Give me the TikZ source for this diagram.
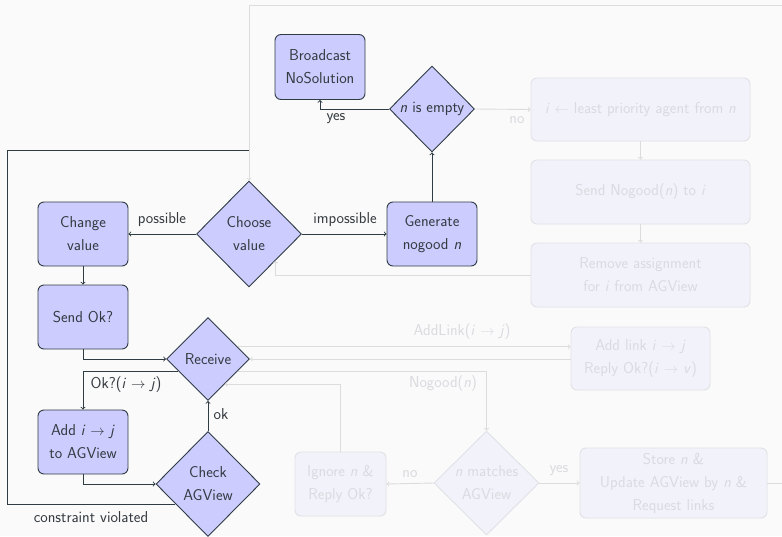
\documentclass[tikz,border=0pt]{standalone}
\usetikzlibrary{shapes.geometric,calc}
\definecolor{bgc}{HTML}{FAFAFA}
\definecolor{nfill}{HTML}{CCCCFF}
\definecolor{dk}{RGB}{48,60,68}
\definecolor{txt}{RGB}{52,58,64}
\definecolor{ffill}{HTML}{F2F2FA}
\definecolor{fdraw}{HTML}{E1E1E7}
\definecolor{ftxt}{HTML}{DADAE0}
\definecolor{fln}{HTML}{DCDCDC}
\newcommand\myi{\textit{i}}
\newcommand\myj{\textit{j}}
\newcommand\myn{\textit{n}}
\newcommand\myv{\textit{v}}
\newcommand\rar{$\rightarrow$}
\begin{document}
\begin{tikzpicture}[x=1pt,y=-1pt,
  every node/.style={font=\sffamily\fontsize{15.8}{23}\selectfont},
  pbox/.style={rectangle,rounded corners=6pt,draw=dk,line width=0.9pt,fill=nfill,text=txt,
     minimum width=90pt,minimum height=64pt,align=center,inner sep=0pt},
  pdia/.style={diamond,draw=dk,line width=0.9pt,fill=nfill,text=txt,inner sep=0pt,align=center},
  fbox/.style={rectangle,rounded corners=6pt,draw=fdraw,line width=0.9pt,fill=ffill,text=ftxt,
     minimum height=64pt,align=center,inner sep=0pt},
  fdia/.style={diamond,draw=fdraw,line width=0.9pt,fill=ffill,text=ftxt,inner sep=0pt,align=center},
  arr/.style={draw=dk,line width=0.9pt,->},
  line/.style={draw=dk,line width=0.9pt},
  farr/.style={draw=fln,line width=0.9pt,->},
  lbl/.style={text=txt,inner sep=0pt},
  flbl/.style={text=ftxt,inner sep=0pt}]
\fill[bgc] (0,0) rectangle (782,536);
\useasboundingbox (0,0) rectangle (782,536);
% main nodes
\node[pbox,minimum height=65pt] (bc) at (320,67) {Broadcast\\NoSolution};
\node[pdia,minimum width=85pt,minimum height=86pt] (emp) at (432,109) {\myn\ is empty};
\node[pbox] (gen) at (432,234) {Generate\\nogood \myn};
\node[pdia,minimum width=105pt,minimum height=106pt] (cv) at (249,234) {Choose\\value};
\node[pbox] (chg) at (83,234) {Change\\value};
\node[pbox] (sok) at (83,317) {Send Ok?};
\node[pdia,minimum width=83pt,minimum height=83pt] (rc) at (208,359) {Receive};
\node[pbox] (add) at (83,442) {Add \myi\ \rar\ \myj\\to AGView};
\node[pdia,minimum width=104pt,minimum height=105pt] (ck) at (208,484) {Check\\AGView};
% faded nodes
\node[fbox,minimum width=219pt,minimum height=63pt] (lp) at (640.5,109.5) {\myi\ $\leftarrow$ least priority agent from \myn};
\node[fbox,minimum width=219pt] (sn) at (640.5,192) {Send Nogood(\myn) to \myi};
\node[fbox,minimum width=219pt] (rm) at (640.5,275) {Remove assignment\\for \myi\ from AGView};
\node[fbox,minimum width=139pt,minimum height=63pt] (al) at (640.5,358.5) {Add link \myi\ \rar\ \myj\\Reply Ok?(\myi\ \rar\ \myv)};
\node[fdia,minimum width=105pt,minimum height=104pt] (nm) at (486.5,483) {\myn\ matches\\AGView};
\node[fbox,minimum width=187pt,minimum height=70pt] (st) at (673.5,483) {Store \myn\ \&\\Update AGView by \myn\ \&\\Request links};
\node[fbox,minimum width=91pt] (ig) at (340.5,484) {Ignore \myn\ \&\\Reply Ok?};
% helper coordinates
\coordinate (tl) at (7.5,150.5);
\coordinate (tr) at (800,5);
\coordinate (ckout) at ($(ck.west)!0.38!(ck.south)$);
\coordinate (rcdl) at ($(rc.west)!0.29!(rc.south)$);
\coordinate (rcur) at ($(rc.east)!0.29!(rc.north)$);
\coordinate (rcdr) at ($(rc.east)!0.29!(rc.south)$);
\coordinate (rcig) at ($(rc.east)!0.6!(rc.south)$);
% dark connectors
\draw[arr] (cv.west) -- (chg.east);
\draw[arr] (cv.east) -- (gen.west);
\draw[arr] (gen.north) -- (emp.south);
\draw[arr] (emp.west) -| (bc.south);
\draw[arr] (chg.south) -- (sok.north);
\draw[arr] (sok.south) |- (rc.west);
\draw[arr] (rcdl) -| (add.north);
\draw[arr] (add.south) |- (ck.west);
\draw[arr] (ck.north) -- (rc.south);
\draw[line] (ckout) -| (tl) -- (tl -| cv.north);
% faded connectors
\draw[farr] (st.east) -| (tr) -| (cv.north);
\draw[farr] (emp.east) -- (lp.west);
\draw[farr] (lp.south) -- (sn.north);
\draw[farr] (sn.south) -- (rm.north);
\draw[farr] (rm.west) -| (cv.south east);
\draw[farr] (rcur) -- (rcur -| al.west);
\draw[farr] (al.west |- rc.east) -- (rc.east);
\draw[farr] (rcdr) -| (nm.north);
\draw[farr] (nm.west) -- (ig.east);
\draw[farr] (nm.east) -- (st.west);
\draw[farr] (ig.north) |- (rcig);
% labels
\node[lbl] (lpos) at (162,220) {possible};
\node[lbl] (limp) at (345,220) {impossible};
\node[lbl] (lyes) at (336,119) {yes};
\node[lbl] (lok1) at (126,385) {Ok?(\myi\ \rar\ \myj)};
\node[lbl] (lok) at (221,414) {ok};
\node[lbl] (lcv) at (91,517) {constraint violated};
\node[flbl] (lno1) at (517,120) {no};
\node[flbl] (lal) at (462,332) {AddLink(\myi\ \rar\ \myj)};
\node[flbl] (lng) at (443,384) {Nogood(\myn)};
\node[flbl] (lno2) at (410,474) {no};
\node[flbl] (lyes2) at (559,471) {yes};
\end{tikzpicture}
\end{document}
